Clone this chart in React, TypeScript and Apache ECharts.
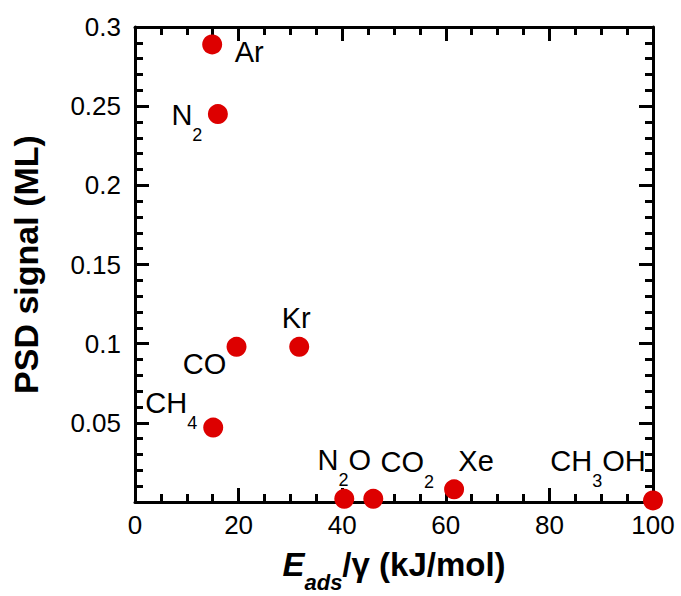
import React, { useEffect, useRef } from "react";
import * as echarts from "echarts";

// Data
const molecules = ["Ar", "N2", "CO", "Kr", "CH4", "N2O", "CO2", "Xe", "CH3OH"];
const labelTexts = ["Ar", "N{s|2}", "CO", "Kr", "CH{s|4}", "N{s|2}O", "CO{s|2}", "Xe", "CH{s|3}OH"];
const eadsOverGamma = [14.9, 16.0, 19.6, 31.7, 15.1, 40.4, 46.0, 61.6, 100];
const psdSignal = [0.289, 0.245, 0.098, 0.098, 0.047, 0.002, 0.002, 0.008, 0.001];
const xTicks = [0, 20, 40, 60, 80, 100];
const yTicks = [0, 0.05, 0.1, 0.15, 0.2, 0.25, 0.3];

// Label placement (pixels relative to each marker)
const labelOffsets: Record<string, [number, number]> = {
  Ar: [37, 8],
  N2: [-31, 1],
  CO: [-32, 17],
  Kr: [-3, -29],
  CH4: [-42, -25],
  N2O: [0, -39],
  CO2: [34, -37],
  Xe: [22, -28],
  CH3OH: [-55, -39],
};

const FONT = "'Liberation Sans', Arial, Helvetica, sans-serif";
const RED = "#dd0000";

function makeTick() {
  return { show: true, inside: true, length: 14, lineStyle: { color: "#000", width: 3 } };
}
function makeMinor(n: number) {
  return { show: true, splitNumber: n, length: 8, lineStyle: { color: "#000", width: 3 } };
}
function makeLine() {
  return { show: true, onZero: false, lineStyle: { color: "#000", width: 3 } };
}

export default function App() {
  const ref = useRef<HTMLDivElement>(null);
  useEffect(() => {
    if (!ref.current) return;
    const chart = echarts.init(ref.current, null, { renderer: "svg" });
    const xMin = xTicks[0], xMax = xTicks[xTicks.length - 1], xInt = xTicks[1] - xTicks[0];
    const yMin = yTicks[0], yMax = yTicks[yTicks.length - 1], yInt = yTicks[1] - yTicks[0];

    const data = molecules.map((m, i) => ({
      name: m,
      value: [eadsOverGamma[i], psdSignal[i]],
      label: {
        show: true,
        position: "inside",
        offset: labelOffsets[m],
        formatter: labelTexts[i],
        fontFamily: FONT,
        fontSize: 29,
        color: "#000",
        textBorderWidth: 0,
        rich: {
          s: { fontFamily: FONT, fontSize: 18, color: "#000", padding: [40, 0, 0, 0] },
        },
      },
    }));

    chart.setOption({
      animation: false,
      grid: { left: 135, right: 28, top: 27, bottom: 94, containLabel: false, outerBoundsMode: "none" },
      xAxis: [
        {
          type: "value",
          min: xMin,
          max: xMax,
          interval: xInt,
          position: "bottom",
          axisLine: makeLine(),
          axisTick: makeTick(),
          minorTick: makeMinor(4),
          splitLine: { show: false },
          axisLabel: { fontFamily: FONT, fontSize: 26, color: "#000", margin: 10 },
          name: "{e|E}{s|ads}/γ (kJ/mol)",
          nameLocation: "middle",
          nameGap: 33,
          nameTextStyle: {
            fontFamily: FONT,
            fontSize: 33,
            fontWeight: "bold",
            color: "#000",
            rich: {
              e: { fontFamily: FONT, fontSize: 33, fontWeight: "bold", fontStyle: "italic", color: "#000" },
              s: { fontFamily: FONT, fontSize: 22, fontWeight: "bold", fontStyle: "italic", color: "#000", padding: [36, 0, 0, 0] },
            },
          },
        },
        {
          type: "value",
          min: xMin,
          max: xMax,
          interval: xInt,
          position: "top",
          axisLine: makeLine(),
          axisTick: makeTick(),
          minorTick: makeMinor(4),
          splitLine: { show: false },
          axisLabel: { show: false },
        },
      ],
      yAxis: [
        {
          type: "value",
          min: yMin,
          max: yMax,
          interval: yInt,
          position: "left",
          axisLine: makeLine(),
          axisTick: makeTick(),
          minorTick: makeMinor(5),
          splitLine: { show: false },
          axisLabel: {
            fontFamily: FONT,
            fontSize: 26,
            color: "#000",
            margin: 14,
            formatter: (v: number) => (v === 0 ? "" : String(+v.toFixed(2))),
          },
          name: "PSD signal (ML)",
          nameLocation: "middle",
          nameGap: 92,
          nameRotate: 90,
          nameTextStyle: { fontFamily: FONT, fontSize: 34, fontWeight: "bold", color: "#000" },
        },
        {
          type: "value",
          min: yMin,
          max: yMax,
          interval: yInt,
          position: "right",
          axisLine: makeLine(),
          axisTick: makeTick(),
          minorTick: makeMinor(5),
          splitLine: { show: false },
          axisLabel: { show: false },
        },
      ],
      series: [
        {
          type: "scatter",
          xAxisIndex: 0,
          yAxisIndex: 0,
          symbol: "circle",
          symbolSize: 20,
          clip: false,
          itemStyle: { color: RED, opacity: 1 },
          data,
          z: 5,
        },
      ],
    });
    return () => chart.dispose();
  }, []);
  return (
    <div
      ref={ref}
      style={{ position: "fixed", left: 0, top: 0, width: 681, height: 596, background: "#fff" }}
    />
  );
}
